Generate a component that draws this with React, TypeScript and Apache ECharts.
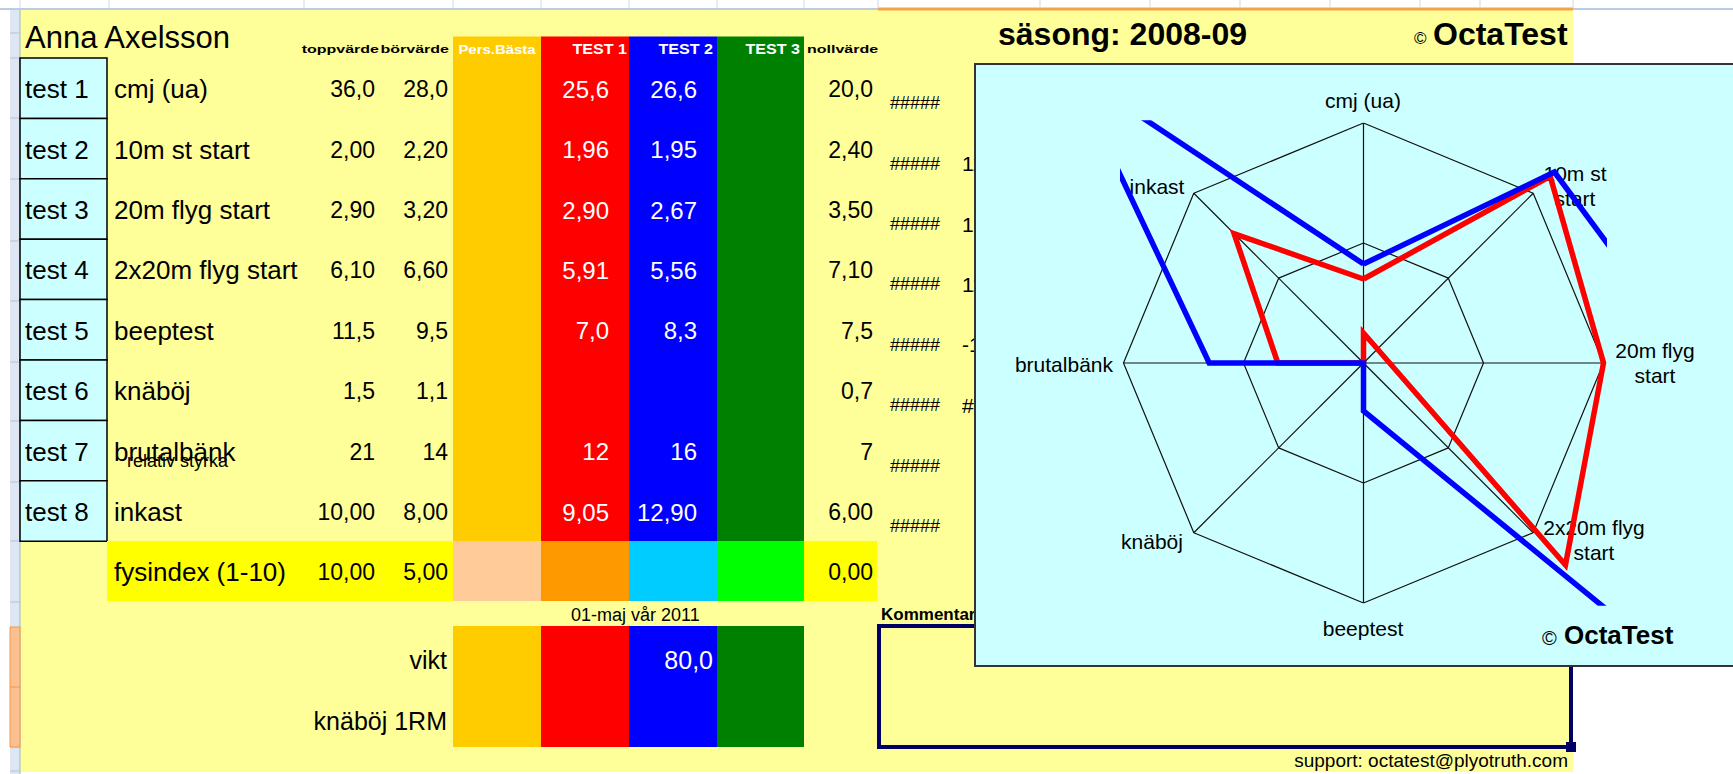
import React, { useEffect, useRef } from "react";
import * as echarts from "echarts";

// ---------- data ----------
const playerName = "Anna Axelsson";
const seasonLabel = "säsong: 2008-09";
const testLabels = ["test 1", "test 2", "test 3", "test 4", "test 5", "test 6", "test 7", "test 8"];
const categories = ["cmj (ua)", "10m st start", "20m flyg start", "2x20m flyg start", "beeptest", "knäböj", "brutalbänk", "inkast"];
const decimals = [1, 2, 2, 2, 1, 1, 0, 2];
const toppvarde = [36.0, 2.0, 2.9, 6.1, 11.5, 1.5, 21, 10.0];
const borvarde = [28.0, 2.2, 3.2, 6.6, 9.5, 1.1, 14, 8.0];
const persBasta: (number | null)[] = [null, null, null, null, null, null, null, null];
const test1: (number | null)[] = [25.6, 1.96, 2.9, 5.91, 7.0, null, 12, 9.05];
const test2: (number | null)[] = [26.6, 1.95, 2.67, 5.56, 8.3, null, 16, 12.9];
const test3: (number | null)[] = [null, null, null, null, null, null, null, null];
const nollvarde = [20.0, 2.4, 3.5, 7.1, 7.5, 0.7, 7, 6.0];
const columnHeaders = ["Pers.Bästa", "TEST 1", "TEST 2", "TEST 3"];
const fysindexLabel = "fysindex (1-10)";
const fysindexValues = [10.0, 5.0, 0.0]; // toppvärde, börvärde, nollvärde
const viktValues: (number | null)[] = [null, null, 80.0, null];
const knabojRMValues: (number | null)[] = [null, null, null, null];
const dateLabels = ["01-maj", "vår 2011"];
const hiddenCol = ["", "11", "10", "11", "-1", "##", "", ""];
const ringLevels = [5, 10];
const scoreMax = 10;

// ---------- helpers ----------
const fmt = (v: number | null, d: number) => (v == null ? "" : v.toFixed(d).replace(".", ","));
const score = (v: number | null, i: number) =>
  v == null ? 0 : ((v - nollvarde[i]) / (toppvarde[i] - nollvarde[i])) * scoreMax;
const angle = (i: number) => (i * 2 * Math.PI) / categories.length;
const toXY = (v: number, i: number) => [v * Math.sin(angle(i)), v * Math.cos(angle(i))];
const polygon = (vals: number[]) => {
  const pts = vals.map((v, i) => toXY(v, i));
  pts.push(pts[0]);
  return pts;
};

const FONT = '"Liberation Sans", Arial, sans-serif';
const W = 1733;
const H = 774;

function txt(x: number, y: number, t: string, o: any = {}) {
  return {
    type: "text",
    x,
    y,
    z: o.z ?? 0,
    scaleX: o.scaleX ?? 1,
    silent: true,
    style: {
      text: t,
      fill: o.fill ?? "#000",
      fontSize: o.size ?? 23,
      fontWeight: o.bold ? "bold" : "normal",
      fontFamily: FONT,
      align: o.align ?? "left",
      verticalAlign: "middle",
      lineHeight: o.lh,
    },
  };
}
function rect(x: number, y: number, w: number, h: number, fill: string, o: any = {}) {
  return {
    type: "rect",
    z: o.z ?? 0,
    silent: true,
    shape: { x, y, width: w, height: h },
    style: { fill, stroke: o.stroke ?? null, lineWidth: o.lw ?? 0 },
  };
}
function ln(x1: number, y1: number, x2: number, y2: number, stroke: string, lw = 1, z = 0) {
  return { type: "line", z, silent: true, shape: { x1, y1, x2, y2 }, style: { stroke, lineWidth: lw } };
}

export default function App() {
  const ref = useRef<HTMLDivElement>(null);
  useEffect(() => {
    if (!ref.current) return;
    const chart = echarts.init(ref.current, null, { renderer: "svg" });

    const colX = [453, 541, 629, 717, 804];
    const colColors = ["#FFCC00", "#FF0000", "#0000FF", "#008000"];
    const fysColors = ["#FFCC99", "#FF9900", "#00CCFF", "#00FF00"];
    const rowTop = 58;
    const rowH = 60.4;

    const g: any[] = [];
    // page background
    g.push(rect(0, 0, W, H, "#FFFFFF"));
    g.push(rect(20, 10, 1553, 762, "#FFFF99"));
    // excel chrome
    g.push(rect(10, 9, 10, H, "#DDE6F2"));
    g.push(ln(20, 9, 20, H, "#9EB6CE", 1));
    [33, 58, 118, 179, 241, 301, 362, 421, 482, 541, 602, 687, 747, 771].forEach((y) =>
      g.push(ln(10, y, 20, y, "#B1C3DA", 1))
    );
    g.push(rect(10, 627, 10, 120, "#FAC090", { stroke: "#F79646", lw: 1 }));
    g.push(ln(10, 687, 20, 687, "#F79646", 1));
    g.push(ln(0, 9, W, 9, "#B8CCE4", 2));
    g.push(ln(878, 9, 1573, 9, "#F5A34A", 3));
    [20, 109, 304, 453, 541, 629, 717, 804, 878, 1040, 1150, 1240, 1330, 1420, 1480, 1573].forEach((x) =>
      g.push(ln(x, 0, x, 8, "#D0D7E5", 1))
    );

    // title row
    g.push(txt(25, 37, playerName, { size: 31 }));
    g.push(txt(379, 50, "toppvärde", { size: 10, bold: true, align: "right", scaleX: 1.6 }));
    g.push(txt(449, 50, "börvärde", { size: 10, bold: true, align: "right", scaleX: 1.6 }));
    g.push(txt(807, 50, "nollvärde", { size: 10, bold: true, scaleX: 1.6 }));

    // colored test columns
    colColors.forEach((c, k) => g.push(rect(colX[k], 36.5, colX[k + 1] - colX[k], 541 - 36.5, c)));
    g.push(txt(497, 49, columnHeaders[0], { size: 13, bold: true, fill: "#FFFFFF", align: "center", scaleX: 1.15 }));
    [627, 713, 800].forEach((x, k) =>
      g.push(txt(x, 49, columnHeaders[k + 1], { size: 14, bold: true, fill: "#FFFFFF", align: "right", scaleX: 1.15 }))
    );

    // data rows
    categories.forEach((name, i) => {
      const yTop = rowTop + i * rowH;
      const yc = yTop + rowH / 2 + 1;
      g.push(rect(20, yTop, 87, rowH, "#CCFFFF", { stroke: "#000", lw: 1.5 }));
      g.push(txt(25, yc, testLabels[i], { size: 26 }));
      g.push(txt(114, yc, name, { size: 26 }));
      g.push(txt(375, yc, fmt(toppvarde[i], decimals[i]), { size: 23, align: "right" }));
      g.push(txt(448, yc, fmt(borvarde[i], decimals[i]), { size: 23, align: "right" }));
      g.push(txt(536, yc, fmt(persBasta[i], decimals[i]), { size: 24, align: "right", fill: "#FFF" }));
      g.push(txt(609, yc, fmt(test1[i], decimals[i]), { size: 24, align: "right", fill: "#FFF" }));
      g.push(txt(697, yc, fmt(test2[i], decimals[i]), { size: 24, align: "right", fill: "#FFF" }));
      g.push(txt(785, yc, fmt(test3[i], decimals[i]), { size: 24, align: "right", fill: "#FFF" }));
      g.push(txt(873, yc, fmt(nollvarde[i], decimals[i]), { size: 23, align: "right" }));
      g.push(txt(890, yc + 14, "#####", { size: 18 }));
      if (hiddenCol[i]) g.push(txt(962, yc + 14, hiddenCol[i], { size: 21 }));
    });
    g.push(txt(127, 461, "relativ styrka", { size: 18 }));

    // fysindex row
    g.push(rect(107, 541, 346, 60, "#FFFF00"));
    fysColors.forEach((c, k) => g.push(rect(colX[k], 541, colX[k + 1] - colX[k], 60, c)));
    g.push(rect(804, 541, 73, 60, "#FFFF00"));
    g.push(txt(114, 572, fysindexLabel, { size: 26 }));
    g.push(txt(375, 572, fmt(fysindexValues[0], 2), { size: 23, align: "right" }));
    g.push(txt(448, 572, fmt(fysindexValues[1], 2), { size: 23, align: "right" }));
    g.push(txt(873, 572, fmt(fysindexValues[2], 2), { size: 23, align: "right" }));

    // date + vikt block
    g.push(txt(626, 615, dateLabels[0], { size: 18, align: "right" }));
    g.push(txt(631, 615, dateLabels[1], { size: 18 }));
    colColors.forEach((c, k) => g.push(rect(colX[k], 626, colX[k + 1] - colX[k], 121, c)));
    g.push(txt(447, 660, "vikt", { size: 25, align: "right" }));
    g.push(txt(447, 721, "knäböj 1RM", { size: 25, align: "right" }));
    const valRight = [536, 624, 713, 800];
    viktValues.forEach((v, k) => g.push(txt(valRight[k], 660, fmt(v, 1), { size: 25, align: "right", fill: "#FFF" })));
    knabojRMValues.forEach((v, k) => g.push(txt(valRight[k], 721, fmt(v, 1), { size: 25, align: "right", fill: "#FFF" })));

    // comment box
    g.push(txt(881, 614, "Kommentar:", { size: 17, bold: true }));
    g.push(rect(879, 626, 692, 121, "rgba(0,0,0,0)", { stroke: "#000066", lw: 4 }));
    g.push(rect(1566, 742, 10, 10, "#000066"));
    g.push(txt(1568, 760, "support: octatest@plyotruth.com", { size: 19, align: "right" }));

    // season + logo
    g.push(txt(998, 34, seasonLabel, { size: 32, bold: true }));
    g.push(txt(1414, 38, "©", { size: 17 }));
    g.push(txt(1433, 34, "OctaTest", { size: 32, bold: true }));

    // chart area
    g.push(rect(975, 64, 800, 602, "#CCFFFF", { stroke: "#333333", lw: 2, z: 1 }));
    const labelPos = [
      [1363, 100, "center"],
      [1575, 186, "center"],
      [1655, 363, "center"],
      [1594, 540, "center"],
      [1363, 628, "center"],
      [1152, 541, "center"],
      [1113, 364, "right"],
      [1157, 186, "center"],
    ];
    categories.forEach((c, i) => {
      const [x, y, align] = labelPos[i] as [number, number, string];
      g.push(txt(x, y, c.replace(/ start$/, "\nstart"), { size: 21, align, lh: 25, z: 1 }));
    });
    g.push(txt(1542, 638, "©", { size: 20, z: 1 }));
    g.push(txt(1564, 635, "OctaTest", { size: 26, bold: true, z: 1 }));

    const gridSeries: any[] = [];
    ringLevels.forEach((lv) =>
      gridSeries.push({
        type: "line",
        data: polygon(categories.map(() => lv)),
        symbol: "none",
        silent: true,
        z: 2,
        lineStyle: { color: "#111111", width: 1.2 },
      })
    );
    categories.forEach((_, i) =>
      gridSeries.push({
        type: "line",
        data: [[0, 0], toXY(scoreMax, i)],
        symbol: "none",
        silent: true,
        z: 2,
        lineStyle: { color: "#111111", width: 1.2 },
      })
    );
    const dataSeries = [
      { name: columnHeaders[0], vals: persBasta, color: "#FFC000" },
      { name: columnHeaders[1], vals: test1, color: "#FF0000" },
      { name: columnHeaders[2], vals: test2, color: "#0000FF" },
      { name: columnHeaders[3], vals: test3, color: "#008000" },
    ].map((s) => ({
      type: "line",
      name: s.name,
      data: polygon(s.vals.map((v, i) => score(v, i))),
      symbol: "none",
      clip: true,
      silent: true,
      z: 3,
      lineStyle: { color: s.color, width: 5.5, join: "miter", miterLimit: 10 },
    }));

    chart.setOption({
      animation: false,
      backgroundColor: "#FFFFFF",
      graphic: { elements: g },
      grid: { left: 1123.5, top: 123, width: 480, height: 480 },
      xAxis: { type: "value", min: -scoreMax, max: scoreMax, show: false },
      yAxis: { type: "value", min: -scoreMax, max: scoreMax, show: false },
      series: [...gridSeries, ...dataSeries],
    });
    return () => chart.dispose();
  }, []);
  return <div ref={ref} style={{ position: "fixed", left: 0, top: 0, width: W, height: H }} />;
}
